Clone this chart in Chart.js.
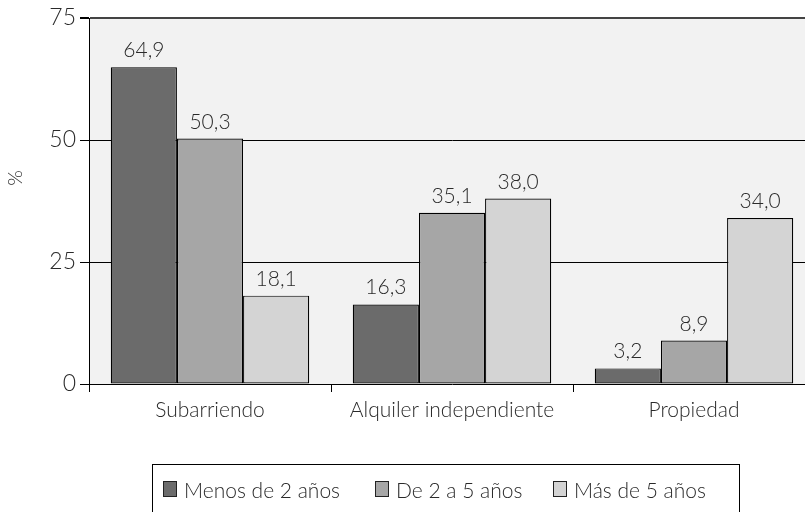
<!DOCTYPE html>
<html><head><meta charset="utf-8">
<script src="https://cdn.jsdelivr.net/npm/chart.js@4.4.0/dist/chart.umd.min.js"></script>
<style>html,body{margin:0;padding:0;overflow:hidden;background:#fff;width:805px;height:512px}#wrap{width:820px;height:512px}</style>
</head><body><div id="wrap"><canvas id="c" width="820" height="512"></canvas></div>
<script>
const categories = ["Subarriendo", "Alquiler independiente", "Propiedad"];
const seriesNames = ["Menos de 2 años", "De 2 a 5 años", "Más de 5 años"];
const menos2 = [64.9, 16.3, 3.2];
const de2a5 = [50.3, 35.1, 8.9];
const mas5 = [18.1, 38.0, 34.0];
const yTicks = [0, 25, 50, 75];
const colors = ["#6b6b6b", "#a6a6a6", "#d4d4d4"];
const FONT = "Lato, 'DejaVu Sans', sans-serif";
const TXT = '#2a2a2a';

const bgPlugin = {
  id: 'bg',
  beforeDraw(chart) {
    const a = chart.chartArea, ctx = chart.ctx;
    ctx.save(); ctx.fillStyle = '#f2f2f2';
    ctx.fillRect(a.left, a.top, a.right - a.left, a.bottom - a.top);
    ctx.restore();
  },
  afterDraw(chart) {
    const ctx = chart.ctx;
    ctx.save();
    ctx.translate(16, 178); ctx.rotate(-Math.PI / 2);
    ctx.font = "300 20px " + FONT; ctx.fillStyle = TXT;
    ctx.textAlign = 'center'; ctx.textBaseline = 'middle';
    ctx.fillText('%', 0, 0);
    ctx.restore();
  }
};
const labelPlugin = {
  id: 'vals',
  afterDatasetsDraw(chart) {
    const ctx = chart.ctx;
    ctx.save();
    ctx.font = "300 21px " + FONT; ctx.fillStyle = TXT;
    ctx.textAlign = 'center'; ctx.textBaseline = 'alphabetic';
    chart.data.datasets.forEach((ds, i) => {
      chart.getDatasetMeta(i).data.forEach((bar, j) => {
        ctx.fillText(ds.data[j].toFixed(1).replace('.', ','), bar.x, bar.y - 10);
      });
    });
    ctx.restore();
  }
};
const legendPlugin = {
  id: 'lgd',
  afterDraw(chart) {
    const ctx = chart.ctx;
    ctx.save();
    ctx.strokeStyle = '#000'; ctx.lineWidth = 1;
    ctx.strokeRect(152.5, 464.5, 587, 80);
    const xs = [163, 375, 553];
    ctx.font = "300 21px " + FONT; ctx.textBaseline = 'alphabetic'; ctx.textAlign = 'left';
    chart.data.datasets.forEach((ds, i) => {
      ctx.fillStyle = ds.backgroundColor;
      ctx.fillRect(xs[i] + 0.5, 481.5, 13, 15);
      ctx.strokeStyle = '#222';
      ctx.strokeRect(xs[i] + 0.5, 481.5, 13, 15);
      ctx.fillStyle = TXT;
      ctx.fillText(ds.label, xs[i] + 21, 498);
    });
    ctx.restore();
  }
};

new Chart(document.getElementById('c'), {
  type: 'bar',
  data: {
    labels: categories,
    datasets: [
      { label: seriesNames[0], data: menos2, backgroundColor: colors[0] },
      { label: seriesNames[1], data: de2a5, backgroundColor: colors[1] },
      { label: seriesNames[2], data: mas5, backgroundColor: colors[2] }
    ].map(d => Object.assign(d, { borderColor: '#000', borderWidth: 1.2, borderSkipped: false, categoryPercentage: 0.82, barPercentage: 1.0 }))
  },
  options: {
    responsive: false, animation: false,
    layout: { padding: { left: 0, right: 5, top: 18, bottom: 88 } },
    plugins: { legend: { display: false }, tooltip: { enabled: false } },
    scales: {
      x: {
        grid: { drawOnChartArea: false, drawTicks: true, tickLength: 8, color: '#000', offset: true },
        border: { display: true, color: '#000', width: 1 },
        ticks: { color: TXT, font: { family: FONT, size: 21, weight: 300 }, padding: 6 },
        afterFit(s) { s.height = 40; }
      },
      y: {
        min: 0, max: 75,
        afterBuildTicks(s) { s.ticks = yTicks.map(v => ({ value: v })); },
        grid: {
          color: ctx => ctx.tick && ctx.tick.value === 75 ? '#444' : (ctx.tick && ctx.tick.value === 0 ? 'rgba(0,0,0,0)' : '#000'),
          lineWidth: ctx => ctx.tick && ctx.tick.value === 75 ? 2 : 1,
          tickColor: '#000', tickLength: 9, drawTicks: true
        },
        border: { display: true, color: '#000', width: 1 },
        ticks: { color: TXT, font: { family: FONT, size: 23, weight: 300 }, padding: 4 },
        afterFit(s) { s.width = 89; }
      }
    }
  },
  plugins: [bgPlugin, labelPlugin, legendPlugin]
});
</script></body></html>
